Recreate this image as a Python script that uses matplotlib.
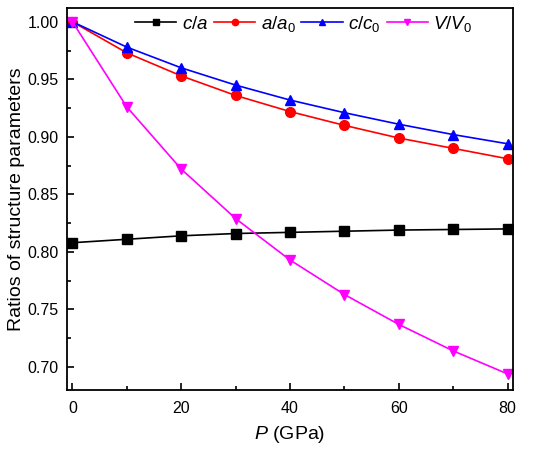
import matplotlib
matplotlib.use('Agg')
import matplotlib.pyplot as plt
from matplotlib.ticker import MultipleLocator

plt.rcParams['font.family'] = ['Liberation Sans', 'DejaVu Sans']
plt.rcParams['mathtext.fontset'] = 'custom'
plt.rcParams['mathtext.rm'] = 'Liberation Sans'
plt.rcParams['mathtext.it'] = 'Liberation Sans:italic'

pressure = [0, 10, 20, 30, 40, 50, 60, 70, 80]
c_over_a = [0.808, 0.811, 0.814, 0.816, 0.817, 0.818, 0.819, 0.8195, 0.820]
a_over_a0 = [1.000, 0.973, 0.953, 0.936, 0.922, 0.910, 0.899, 0.890, 0.881]
c_over_c0 = [1.000, 0.978, 0.960, 0.945, 0.932, 0.921, 0.911, 0.902, 0.894]
v_over_v0 = [1.000, 0.926, 0.872, 0.829, 0.793, 0.763, 0.737, 0.714, 0.694]

fig = plt.figure(figsize=(5.5, 4.51), dpi=100)
ax = fig.add_axes([67 / 550, 1 - 390 / 451, (513 - 67) / 550, (390 - 8) / 451])

ax.plot(pressure, c_over_a, '-s', color='black', ms=6.5, lw=1.2, label=r'$c/a$')
ax.plot(pressure, a_over_a0, '-o', color='red', ms=7, lw=1.2, label=r'$a/a_{\mathrm{0}}$')
ax.plot(pressure, c_over_c0, '-^', color='blue', ms=7.5, lw=1.2, label=r'$c/c_{\mathrm{0}}$')
ax.plot(pressure, v_over_v0, '-v', color='magenta', ms=7.5, lw=1.2, label=r'$V/V_{\mathrm{0}}$')

ax.set_xlim(-1, 81)
ax.set_ylim(0.68, 1.012)
ax.xaxis.set_major_locator(MultipleLocator(20))
ax.xaxis.set_minor_locator(MultipleLocator(10))
ax.yaxis.set_major_locator(MultipleLocator(0.05))
ax.yaxis.set_minor_locator(MultipleLocator(0.025))
ax.yaxis.set_major_formatter(plt.FormatStrFormatter('%.2f'))
ax.tick_params(which='both', direction='in', labelsize=11.5, width=1.2)
ax.tick_params(which='major', length=5)
ax.tick_params(which='minor', length=3)
ax.tick_params(axis='x', pad=8)
ax.tick_params(axis='y', pad=6)
for s in ax.spines.values():
    s.set_linewidth(1.3)

ax.set_xlabel(r'$P$ (GPa)', fontsize=14, labelpad=6)
ax.set_ylabel('Ratios of structure parameters', fontsize=14, labelpad=2)

ax.legend(loc='upper center', ncol=4, frameon=False, fontsize=13.5,
          handlelength=2.2, columnspacing=0.3, handletextpad=0.3,
          markerscale=0.65, borderaxespad=0.0, bbox_to_anchor=(0.531, 1.005))

fig.savefig('out.png', dpi=100)
